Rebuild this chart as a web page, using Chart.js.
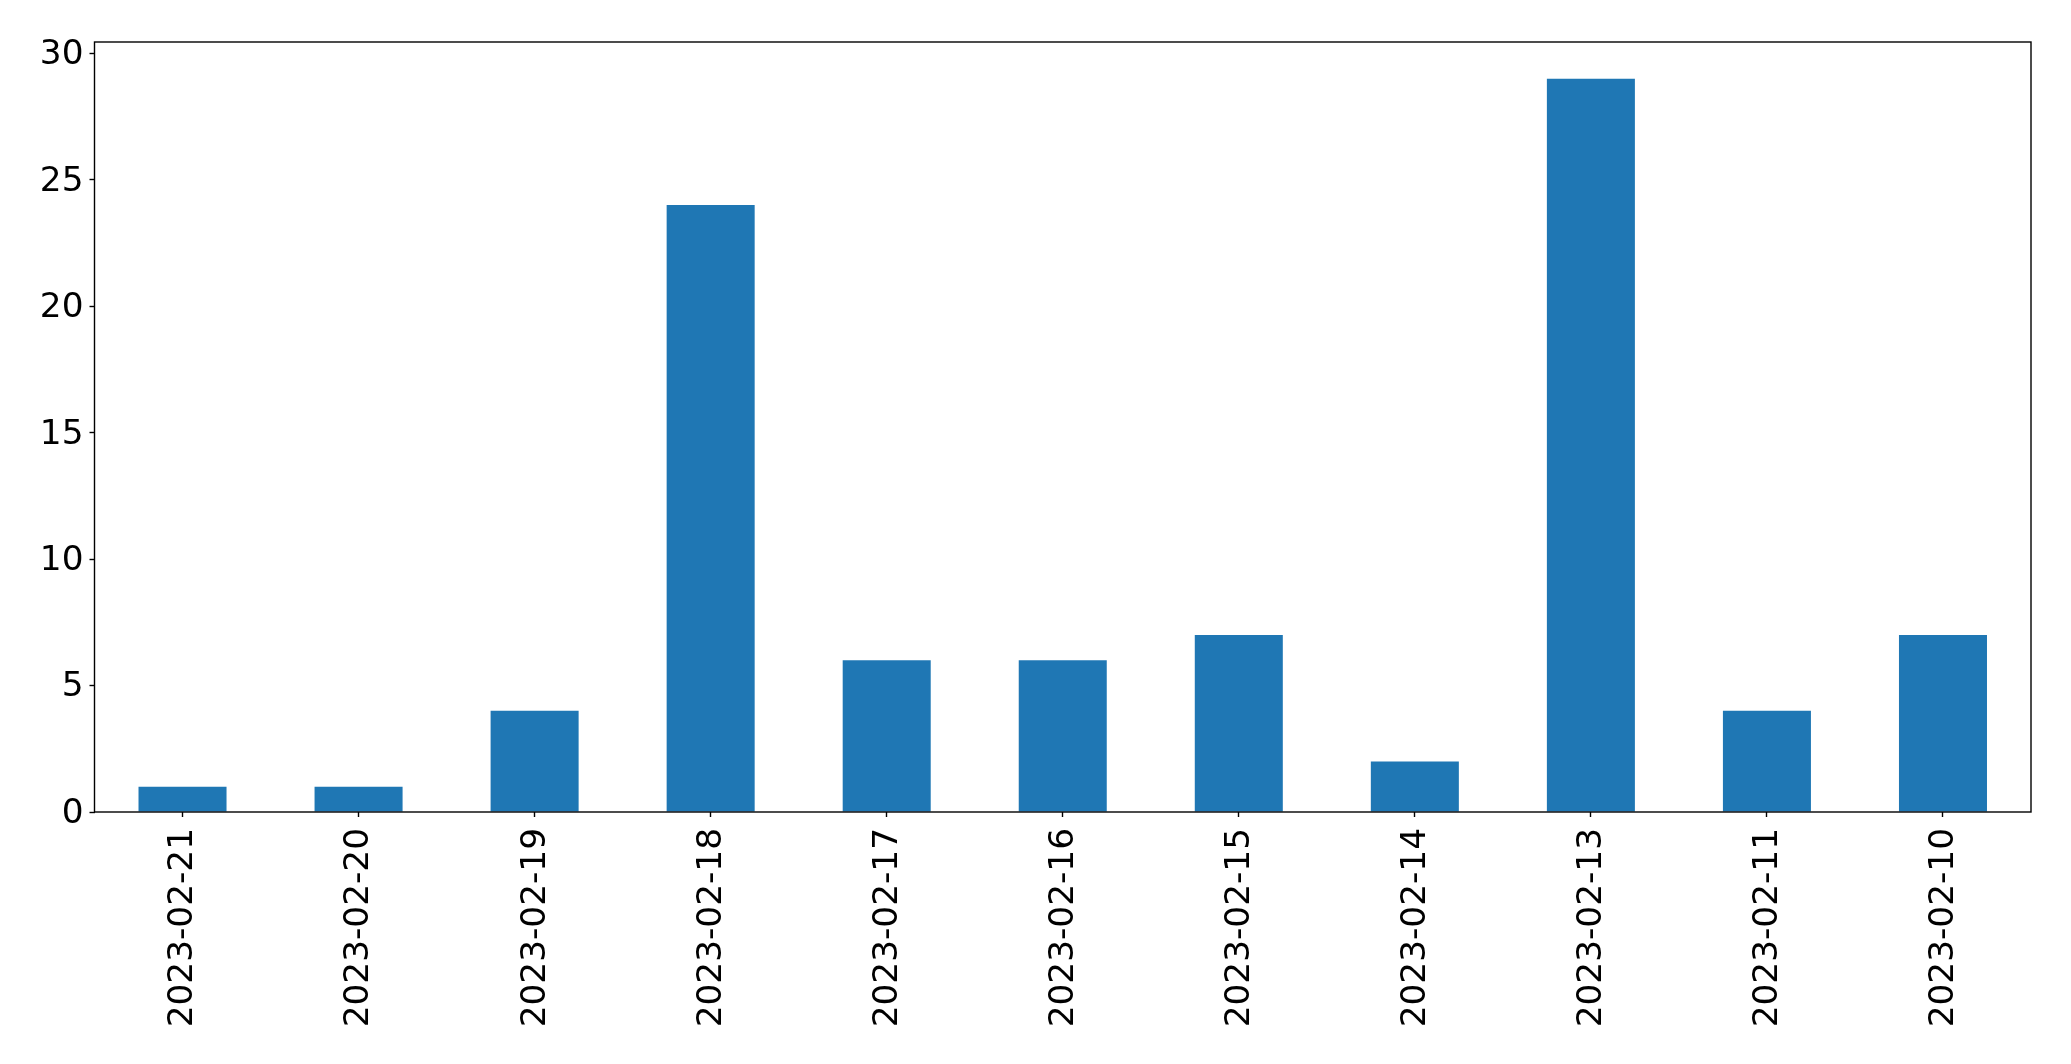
<!DOCTYPE html>
<html>
<head>
<meta charset="utf-8">
<script src="https://cdn.jsdelivr.net/npm/chart.js@4"></script>
<style>
  html, body { margin: 0; padding: 0; background: #fff; }
  canvas { display: block; }
</style>
</head>
<body>
<canvas id="barChart" width="2071" height="1064"></canvas>
<script>
const categories = ['2023-02-21','2023-02-20','2023-02-19','2023-02-18','2023-02-17','2023-02-16','2023-02-15','2023-02-14','2023-02-13','2023-02-11','2023-02-10'];
const counts = [1, 1, 4, 24, 6, 6, 7, 2, 29, 4, 7];
const yTicks = [0, 5, 10, 15, 20, 25, 30];

// frame round the plot area, like a matplotlib axes box
const frame = {
    id: 'frame',
    afterDraw(chart) {
        const a = chart.chartArea, c = chart.ctx;
        c.save();
        c.strokeStyle = '#000';
        c.lineWidth = 1.4;
        c.strokeRect(a.left, a.top, a.right - a.left, a.bottom - a.top);
        c.restore();
    }
};

const font = { family: 'DejaVu Sans', size: 34.3 };

new Chart(document.getElementById('barChart').getContext('2d'), {
    type: 'bar',
    data: {
        labels: categories,
        datasets: [{
            data: counts,
            backgroundColor: '#1f77b4',
            borderWidth: 0,
            categoryPercentage: 0.5,
            barPercentage: 1
        }]
    },
    options: {
        responsive: false,
        animation: false,
        layout: { padding: { left: 0, top: 42, right: 40, bottom: 0 } },
        plugins: { legend: { display: false }, tooltip: { enabled: false } },
        scales: {
            x: {
                offset: true,
                grid: { display: true, drawOnChartArea: false, offset: false, tickLength: 5, tickWidth: 1.4, tickColor: '#000' },
                border: { display: false },
                ticks: { color: '#000', font: font, minRotation: 90, maxRotation: 90, padding: 11, labelOffset: 1, autoSkip: false },
                afterFit(scale) { scale.height = 252; }
            },
            y: {
                min: 0,
                max: 30.45,
                grid: { display: true, drawOnChartArea: false, tickLength: 5, tickWidth: 1.4, tickColor: '#000' },
                border: { display: false },
                afterBuildTicks(scale) { scale.ticks = yTicks.map(v => ({ value: v })); },
                ticks: { color: '#000', font: font, padding: 6, labelOffset: 2 },
                afterFit(scale) { scale.width = 94.5; }
            }
        }
    },
    plugins: [frame]
});
</script>
</body>
</html>
